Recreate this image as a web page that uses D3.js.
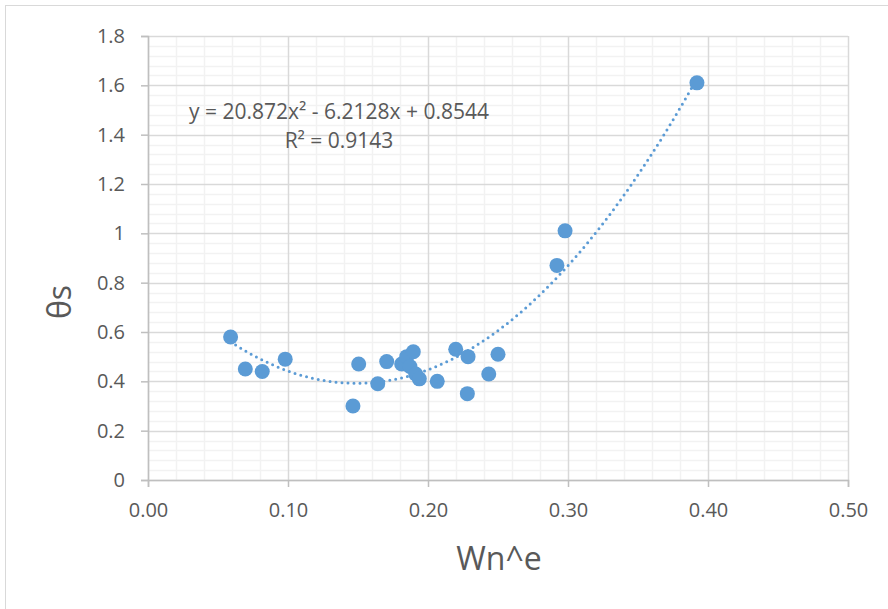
<!DOCTYPE html>
<html>
<head>
<meta charset="utf-8">
<script src="https://cdn.jsdelivr.net/npm/d3@7"></script>
<style>
  body { margin: 0; background: #fff; }
  text { font-family: "Open Sans", "Liberation Sans", sans-serif; fill: #595959; }
</style>
</head>
<body>
<div id="chart"></div>
<script>
// Data
const wne = [0.059, 0.0695, 0.0816, 0.098, 0.1464, 0.1505, 0.1641, 0.1705, 0.1812, 0.1848,
             0.1895, 0.1871, 0.1912, 0.1938, 0.2066, 0.2198, 0.2286, 0.2281, 0.2434, 0.250,
             0.2921, 0.2979, 0.3921];
const thetaS = [0.58, 0.45, 0.44, 0.49, 0.30, 0.47, 0.39, 0.48, 0.47, 0.50,
                0.52, 0.46, 0.43, 0.41, 0.40, 0.53, 0.50, 0.35, 0.43, 0.51,
                0.87, 1.01, 1.61];
const xTicks = [0, 0.1, 0.2, 0.3, 0.4, 0.5];
const yTicks = [0, 0.2, 0.4, 0.6, 0.8, 1, 1.2, 1.4, 1.6, 1.8];
// polynomial trendline coefficients (a x^2 + b x + c)
const trendCoef = [20.872, -6.2128, 0.8544];
const equationLabel = "y = 20.872x² - 6.2128x + 0.8544";
const r2Label = "R² = 0.9143";

const data = wne.map((x, i) => ({ x: x, y: thetaS[i] }));

const W = 888, H = 609;
const margin = { top: 36, right: 40, bottom: 129, left: 148 };
const width = 848 - margin.left,
      height = 480 - margin.top;

const svg = d3.select("#chart").append("svg")
    .attr("width", W)
    .attr("height", H);

// chart area border
svg.append("rect")
   .attr("x", 5.5).attr("y", 5.5)
   .attr("width", 1000).attr("height", 1000)
   .attr("fill", "none")
   .attr("stroke", "#d9d9d9");

const g = svg.append("g")
    .attr("transform", `translate(${margin.left},${margin.top})`);

const xScale = d3.scaleLinear().domain([0, 0.5]).range([0, width]);
const yScale = d3.scaleLinear().domain([0, 1.8]).range([height, 0]);

// minor gridlines
g.append("g").selectAll("line")
  .data(d3.range(1, 25).filter(i => i % 5 !== 0).map(i => i * 0.02))
  .join("line")
  .attr("x1", d => Math.round(xScale(d)) + 0.5).attr("x2", d => Math.round(xScale(d)) + 0.5)
  .attr("y1", 0).attr("y2", height)
  .attr("stroke", "#f2f2f2").attr("stroke-width", 1.5);

g.append("g").selectAll("line")
  .data(d3.range(1, 45).filter(i => i % 5 !== 0).map(i => i * 0.04))
  .join("line")
  .attr("y1", d => Math.round(yScale(d)) + 0.5).attr("y2", d => Math.round(yScale(d)) + 0.5)
  .attr("x1", 0).attr("x2", width)
  .attr("stroke", "#f2f2f2").attr("stroke-width", 1.5);

// major gridlines
g.append("g").selectAll("line")
  .data(xTicks)
  .join("line")
  .attr("x1", d => Math.round(xScale(d)) + 0.5).attr("x2", d => Math.round(xScale(d)) + 0.5)
  .attr("y1", 0).attr("y2", height)
  .attr("stroke", "#d9d9d9").attr("stroke-width", 1.5);

g.append("g").selectAll("line")
  .data(yTicks)
  .join("line")
  .attr("y1", d => Math.round(yScale(d)) + 0.5).attr("y2", d => Math.round(yScale(d)) + 0.5)
  .attr("x1", 0).attr("x2", width)
  .attr("stroke", "#d9d9d9").attr("stroke-width", 1.5);

// axes
const xAxis = g.append("g")
  .attr("transform", `translate(0,${height})`)
  .call(d3.axisBottom(xScale).tickValues(xTicks).tickFormat(d3.format(".2f")).tickSize(7).tickPadding(16));

const yAxis = g.append("g")
  .call(d3.axisLeft(yScale).tickValues(yTicks).tickFormat(d => d3.format("")(d)).tickSize(7).tickPadding(16));

[xAxis, yAxis].forEach(a => {
  a.select(".domain").attr("stroke", "#bfbfbf").attr("stroke-width", 1.5);
  a.selectAll(".tick line").attr("stroke", "#bfbfbf").attr("stroke-width", 1.5);
  a.selectAll(".tick text").style("font-size", "20px").attr("fill", "#595959");
});

// trendline
const xs = d3.extent(wne);
const trendPts = d3.range(0, 201).map(i => {
  const x = xs[0] + (xs[1] - xs[0]) * i / 200;
  return { x: x, y: trendCoef[0] * x * x + trendCoef[1] * x + trendCoef[2] };
});
const line = d3.line().x(d => xScale(d.x)).y(d => yScale(d.y)).curve(d3.curveLinear);

g.append("path")
  .datum(trendPts)
  .attr("d", line)
  .attr("fill", "none")
  .attr("stroke", "#5b9bd5")
  .attr("stroke-width", 3)
  .attr("stroke-linecap", "round")
  .attr("stroke-dasharray", "0 6");

// points
g.append("g").selectAll("circle")
  .data(data)
  .join("circle")
  .attr("cx", d => xScale(d.x))
  .attr("cy", d => yScale(d.y))
  .attr("r", 7.5)
  .attr("fill", "#5b9bd5");

// equation labels
g.append("text")
  .attr("x", 339 - margin.left).attr("y", 119 - margin.top)
  .attr("text-anchor", "middle")
  .style("font-size", "21px")
  .text(equationLabel);

g.append("text")
  .attr("x", 339 - margin.left).attr("y", 148 - margin.top)
  .attr("text-anchor", "middle")
  .style("font-size", "21px")
  .text(r2Label);

// axis titles
svg.append("text")
  .attr("transform", `translate(71,302) rotate(-90)`)
  .attr("text-anchor", "middle")
  .style("font-size", "32px")
  .text("θs");

svg.append("text")
  .attr("x", 499).attr("y", 570)
  .attr("text-anchor", "middle")
  .style("font-size", "32px")
  .text("Wn^e");
</script>
</body>
</html>
